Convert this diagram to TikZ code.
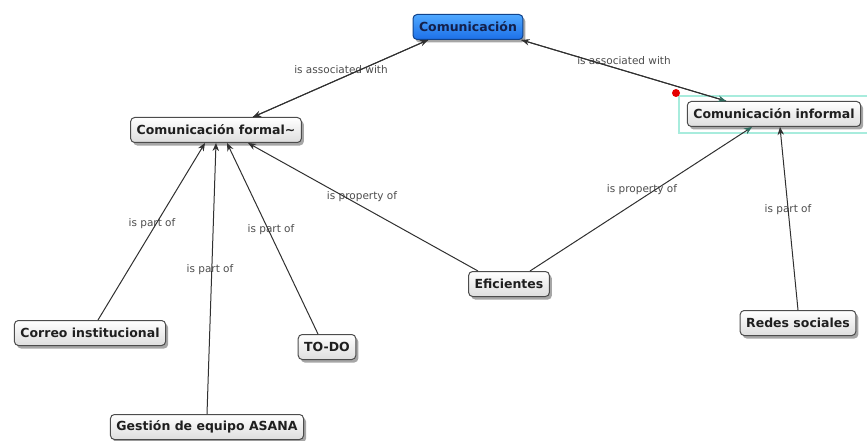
\documentclass[tikz,border=0pt]{standalone}
\usepackage{fontspec}
\setmainfont{DejaVu Sans}
\usetikzlibrary{arrows.meta,shadows}
\definecolor{edgecol}{HTML}{303030}
\definecolor{tealtip}{HTML}{2E6B5E}
\definecolor{selcol}{HTML}{A8ECDD}
\definecolor{blueA}{HTML}{4FA8FF}
\definecolor{blueB}{HTML}{1C6FE8}
\definecolor{navy}{HTML}{13204A}
\begin{document}
\begin{tikzpicture}[x=1pt,y=-1pt,
  concept/.style={draw=black!70, line width=1pt, rounded corners=4pt,
    top color=white, bottom color=black!13,
    font=\bfseries\fontsize{12.5}{14}\selectfont, text=black!88,
    inner xsep=6pt, inner ysep=0pt, minimum height=25pt,
    drop shadow={shadow xshift=2.5pt, shadow yshift=-3pt, fill=black!50, opacity=0.7}},
  rootconcept/.style={concept, draw=blueB!60!black, top color=blueA, bottom color=blueB, text=navy},
  linklabel/.style={font=\fontsize{10.5}{12}\selectfont, text=black!70, inner sep=1pt},
  conn/.style={draw=edgecol, line width=1pt},
  tip/.style={-{Stealth[length=8pt,width=6.5pt]}},
  tealhead/.style={-{Stealth[length=8pt,width=6.5pt,color=tealtip]}}
]
\useasboundingbox (0,0) rectangle (867,441);

% selection highlight
\draw[selcol, line width=1.3pt] (679,96) rectangle (872,133);

% concepts
\node[rootconcept] (com) at (468,27) {Comunicación};
\node[concept] (formal) at (216,130) {Comunicación formal\textasciitilde};
\node[concept] (informal) at (774,114) {Comunicación informal};
\node[concept] (correo) at (90,333) {Correo institucional};
\node[concept] (asana) at (207,427) {Gestión de equipo ASANA};
\node[concept] (todo) at (327,347) {TO-DO};
\node[concept] (efi) at (509,284) {Eficientes};
\node[concept] (redes) at (798,323) {Redes sociales};

% linking phrases
\node[linklabel] (l1) at (341,70) {is associated with};
\node[linklabel] (l2) at (624,61) {is associated with};
\node[linklabel] (l3) at (362,197) {is property of};
\node[linklabel] (l4) at (642,190) {is property of};
\node[linklabel] (l5) at (152,224) {is part of};
\node[linklabel] (l6) at (210,270) {is part of};
\node[linklabel] (l7) at (271,230) {is part of};
\node[linklabel] (l8) at (788,210) {is part of};

% connectors
\draw[conn, tip] ([xshift=-40pt]com.south) -- ([xshift=37pt]formal.north);
\draw[conn, tip] ([xshift=37pt]formal.north) -- ([xshift=-40pt]com.south);
\draw[conn, tip] ([xshift=-48pt]informal.north) -- ([xshift=-2pt]com.south east);
\draw[conn, tealhead] ([xshift=-2pt]com.south east) -- ([xshift=-48pt]informal.north);

\draw[conn, tip] ([xshift=-31pt]efi.north) -- ([xshift=32pt]formal.south);
\draw[conn, tealhead] ([xshift=21pt]efi.north) -- ([xshift=-22pt]informal.south);

\draw[conn, tip] ([xshift=8pt]correo.north) -- ([xshift=-11pt]formal.south);
\draw[conn, tip] (asana.north) -- (formal.south);
\draw[conn, tip] ([xshift=-9pt]todo.north) -- ([xshift=11pt]formal.south);
\draw[conn, tip] (redes.north) -- ([xshift=6pt]informal.south);

% red marker
\fill[red!90!black] (676,93) circle (4pt);
\end{tikzpicture}
\end{document}
